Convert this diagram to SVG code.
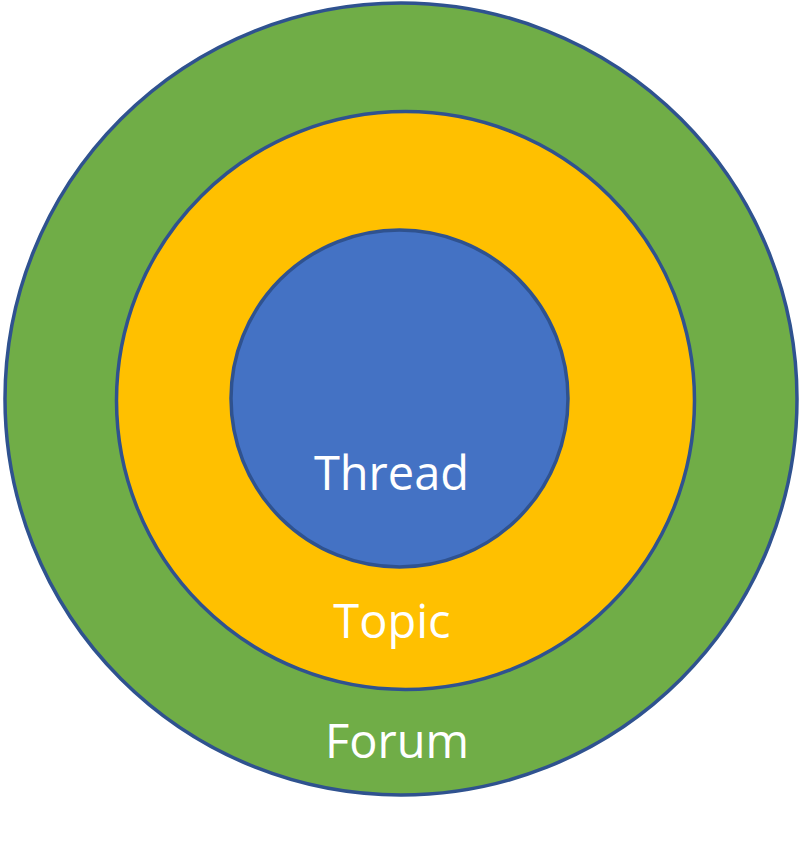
<svg xmlns="http://www.w3.org/2000/svg" width="806" height="843" viewBox="0 0 806 843">
<style>
.ring{stroke:#2F528F;stroke-width:3.5}
.lbl{font-family:"Open Sans","Noto Sans",sans-serif;font-size:47px;fill:#FFFFFF;text-anchor:middle}
</style>
<rect width="806" height="843" fill="#FFFFFF"/>
<g id="forum">
<circle class="ring" cx="401" cy="399" r="396" fill="#70AD47"/>
<text class="lbl" x="397" y="758">Forum</text>
</g>
<g id="topic">
<circle class="ring" cx="405.5" cy="400.5" r="289" fill="#FFC000"/>
<text class="lbl" x="392" y="638">Topic</text>
</g>
<g id="thread">
<circle class="ring" cx="399.5" cy="398.5" r="168.5" fill="#4472C4"/>
<text class="lbl" x="391.5" y="490">Thread</text>
</g>
</svg>
